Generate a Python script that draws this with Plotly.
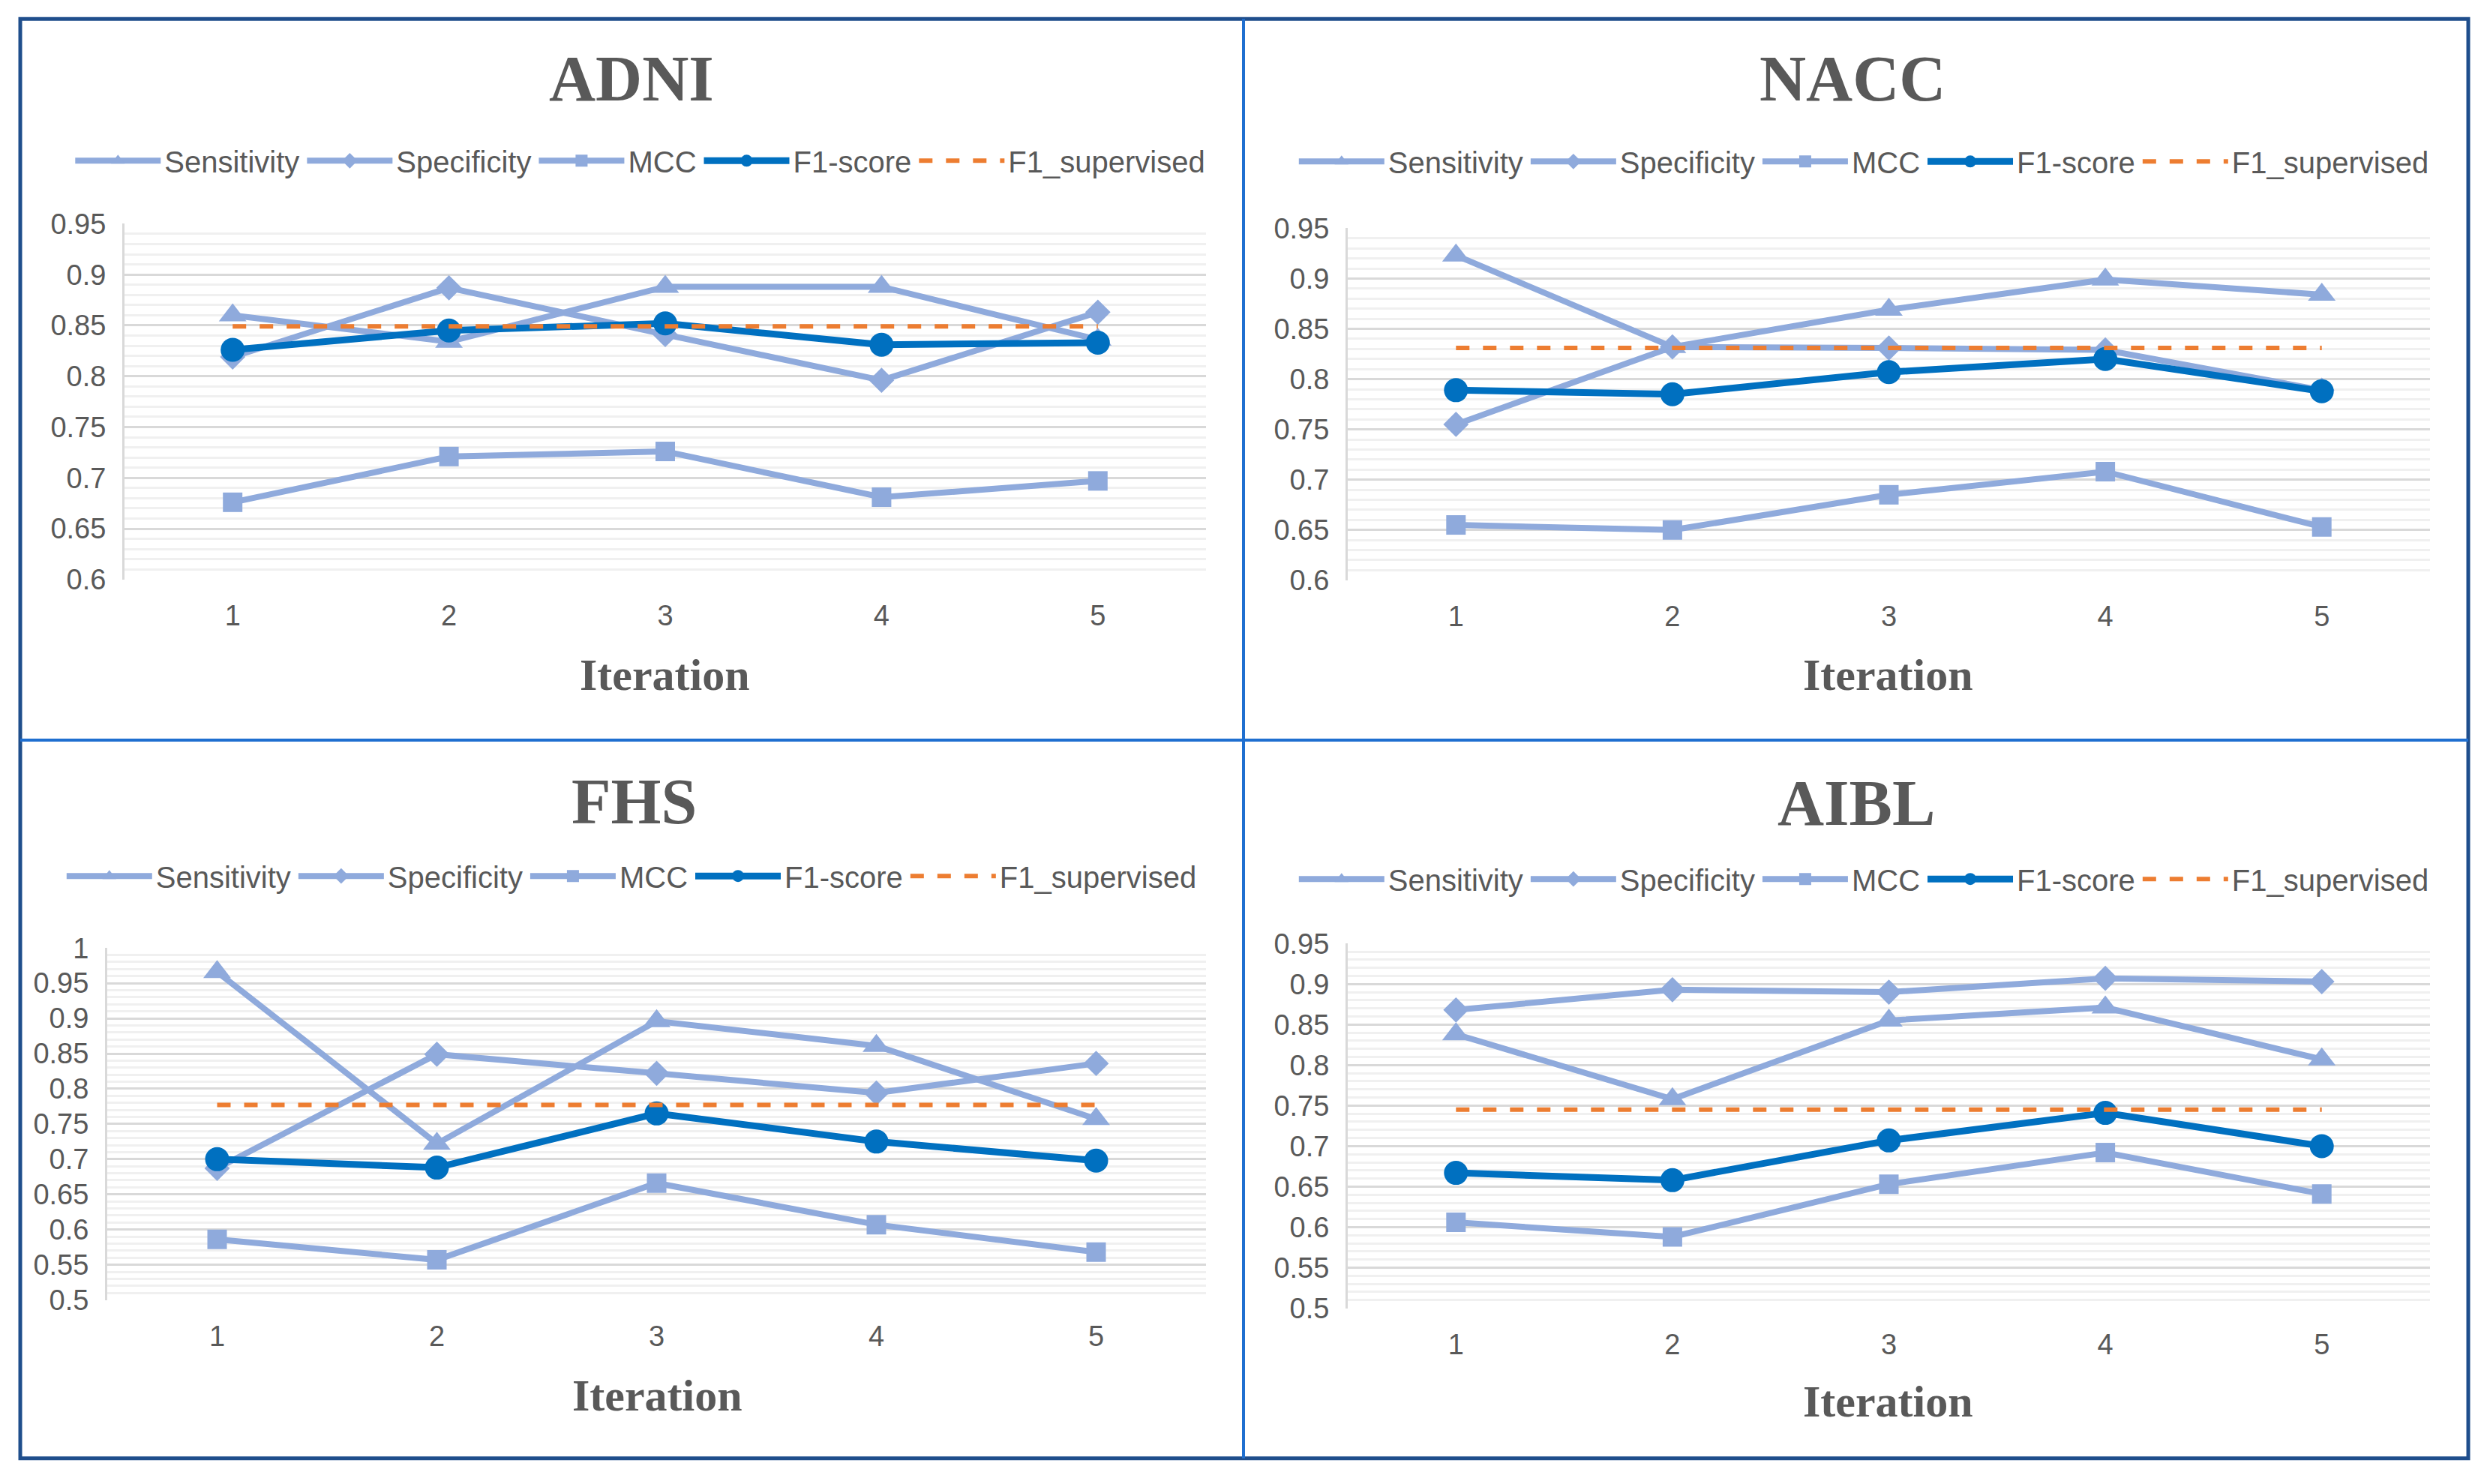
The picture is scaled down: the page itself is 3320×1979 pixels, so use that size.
"""
Four panels (ADNI, NACC, FHS, AIBL): sensitivity, specificity, MCC and
F1-score per iteration, with the supervised F1 as a dashed reference
"""
import plotly.graph_objs as go

iterations = [1, 2, 3, 4, 5]

adni_sens = [0.860, 0.834, 0.888, 0.888, 0.836]
adni_spec = [0.819, 0.887, 0.841, 0.796, 0.863]
adni_mcc = [0.676, 0.721, 0.726, 0.681, 0.697]
adni_f1 = [0.826, 0.845, 0.852, 0.831, 0.833]
adni_f1_sup = [0.849, 0.849, 0.849, 0.849, 0.849]

nacc_sens = [0.923, 0.832, 0.869, 0.899, 0.884]
nacc_spec = [0.755, 0.832, 0.831, 0.829, 0.789]
nacc_mcc = [0.655, 0.650, 0.685, 0.708, 0.653]
nacc_f1 = [0.789, 0.785, 0.807, 0.820, 0.788]
nacc_f1_sup = [0.831, 0.831, 0.831, 0.831, 0.831]

fhs_sens = [0.966, 0.722, 0.896, 0.861, 0.757]
fhs_spec = [0.687, 0.849, 0.822, 0.794, 0.836]
fhs_mcc = [0.586, 0.557, 0.666, 0.607, 0.568]
fhs_f1 = [0.700, 0.688, 0.765, 0.725, 0.698]
fhs_f1_sup = [0.777, 0.777, 0.777, 0.777, 0.777]

aibl_sens = [0.838, 0.758, 0.855, 0.871, 0.807]
aibl_spec = [0.868, 0.893, 0.890, 0.907, 0.903]
aibl_mcc = [0.606, 0.588, 0.653, 0.692, 0.641]
aibl_f1 = [0.667, 0.658, 0.707, 0.741, 0.700]
aibl_f1_sup = [0.745, 0.745, 0.745, 0.745, 0.745]

LIGHT = '#8FAADC'
DARK = '#0070C0'
ORANGE = '#ED7D31'
TEXT = '#595959'
SANS = 'Liberation Sans, Arial, sans-serif'
SERIF = 'Liberation Serif, Times New Roman, serif'

W, H = 3320, 1979


def py(y):
    # pixel row (from top) -> paper y; stretched a bit about the middle
    # so the photographed page lines up with the reference
    y = 990 + (y - 990) / 0.978
    return 1 - y / H


# positions in px: x domain, y domain (top, bottom), legend y, title and x label centres
panels = [
    dict(name='ADNI', data=(adni_sens, adni_spec, adni_mcc, adni_f1, adni_f1_sup),
         xd=(166, 1608), yd=(299, 773), yr=(0.6, 0.95), ly=215,
         title=(842, 106), xlab=(886, 900)),
    dict(name='NACC', data=(nacc_sens, nacc_spec, nacc_mcc, nacc_f1, nacc_f1_sup),
         xd=(1797, 3240), yd=(305, 774), yr=(0.6, 0.95), ly=216,
         title=(2470, 106), xlab=(2517, 900)),
    dict(name='FHS', data=(fhs_sens, fhs_spec, fhs_mcc, fhs_f1, fhs_f1_sup),
         xd=(143, 1608), yd=(1264, 1733), yr=(0.5, 1.0), ly=1168,
         title=(846, 1069), xlab=(876, 1860)),
    dict(name='AIBL', data=(aibl_sens, aibl_spec, aibl_mcc, aibl_f1, aibl_f1_sup),
         xd=(1797, 3240), yd=(1258, 1744), yr=(0.5, 0.95), ly=1172,
         title=(2475, 1071), xlab=(2517, 1868)),
]

names = ['Sensitivity', 'Specificity', 'MCC', 'F1-score', 'F1_supervised']
symbols = ['triangle-up', 'diamond', 'square', 'circle', None]
sizes = [32, 26, 26, 32, 0]

data = []
layout = go.Layout(
    width=W, height=H,
    margin=dict(l=0, r=0, t=0, b=0),
    paper_bgcolor='white', plot_bgcolor='white',
    showlegend=True,
)
annotations = []
shapes = []

for i, p in enumerate(panels):
    k = '' if i == 0 else str(i + 1)
    leg = 'legend' + k
    for j, (nm, vals) in enumerate(zip(names, p['data'])):
        if nm == 'F1_supervised':
            tr = go.Scatter(x=iterations, y=vals, name=nm, mode='lines',
                            line=dict(color=ORANGE, width=6, dash='dash'))
        elif nm == 'F1-score':
            tr = go.Scatter(x=iterations, y=vals, name=nm, mode='lines+markers',
                            line=dict(color=DARK, width=9),
                            marker=dict(symbol=symbols[j], size=sizes[j], color=DARK))
        else:
            tr = go.Scatter(x=iterations, y=vals, name=nm, mode='lines+markers',
                            line=dict(color=LIGHT, width=8),
                            marker=dict(symbol=symbols[j], size=sizes[j], color=LIGHT))
        tr.xaxis = 'x' + k
        tr.yaxis = 'y' + k
        tr.legend = leg
        data.append(tr)

    x0, x1 = p['xd']
    yt, yb = p['yd']
    layout['xaxis' + k] = dict(
        domain=[x0 / W, x1 / W], anchor='y' + k,
        range=[0.5, 5.5], tickvals=iterations, showgrid=False,
        zeroline=False, showline=False, ticks='',
        tickfont=dict(family=SANS, size=38, color=TEXT),
        ticklabelstandoff=22,
    )
    layout['yaxis' + k] = dict(
        domain=[py(yb), py(yt)], anchor='x' + k,
        range=list(p['yr']), dtick=0.05, tickformat='~g',
        showgrid=True, gridcolor='#D9D9D9', gridwidth=3,
        minor=dict(dtick=0.01, showgrid=True, gridcolor='#F0F0F0', gridwidth=3),
        zeroline=False, showline=True, linecolor='#D9D9D9', linewidth=3,
        ticks='', tickfont=dict(family=SANS, size=38, color=TEXT),
        ticklabelstandoff=14,
    )
    layout[leg] = dict(
        orientation='h', x=(x0 + x1) / 2 / W - 0.010,
        xanchor='center', y=py(p['ly']), yanchor='middle',
        font=dict(family=SANS, size=40, color=TEXT),
        itemwidth=114, bgcolor='rgba(0,0,0,0)', traceorder='normal',
    )
    tx, ty = p['title']
    annotations.append(dict(
        text='<b>' + p['name'] + '</b>', x=tx / W, y=py(ty),
        xref='paper', yref='paper', xanchor='center', yanchor='middle',
        showarrow=False, font=dict(family=SERIF, size=86, color=TEXT),
    ))
    lx, lyy = p['xlab']
    annotations.append(dict(
        text='<b>Iteration</b>', x=lx / W, y=py(lyy),
        xref='paper', yref='paper', xanchor='center', yanchor='middle',
        showarrow=False, font=dict(family=SERIF, size=60, color=TEXT),
    ))

# panel frame and dividers
shapes.append(dict(type='rect', xref='paper', yref='paper',
                   x0=27 / W, x1=3291 / W, y0=py(1944), y1=py(26),
                   line=dict(color='#1F4E8C', width=5)))
shapes.append(dict(type='line', xref='paper', yref='paper',
                   x0=1658 / W, x1=1658 / W, y0=py(1944), y1=py(26),
                   line=dict(color='#1F6FD0', width=4)))
shapes.append(dict(type='line', xref='paper', yref='paper',
                   x0=27 / W, x1=3291 / W, y0=py(987), y1=py(987),
                   line=dict(color='#1F6FD0', width=4)))

layout['annotations'] = annotations
layout['shapes'] = shapes

fig = go.Figure(data=data, layout=layout)
fig.write_html('out.html', config={'displayModeBar': False},
               post_script="document.body.style.margin = '0';")
